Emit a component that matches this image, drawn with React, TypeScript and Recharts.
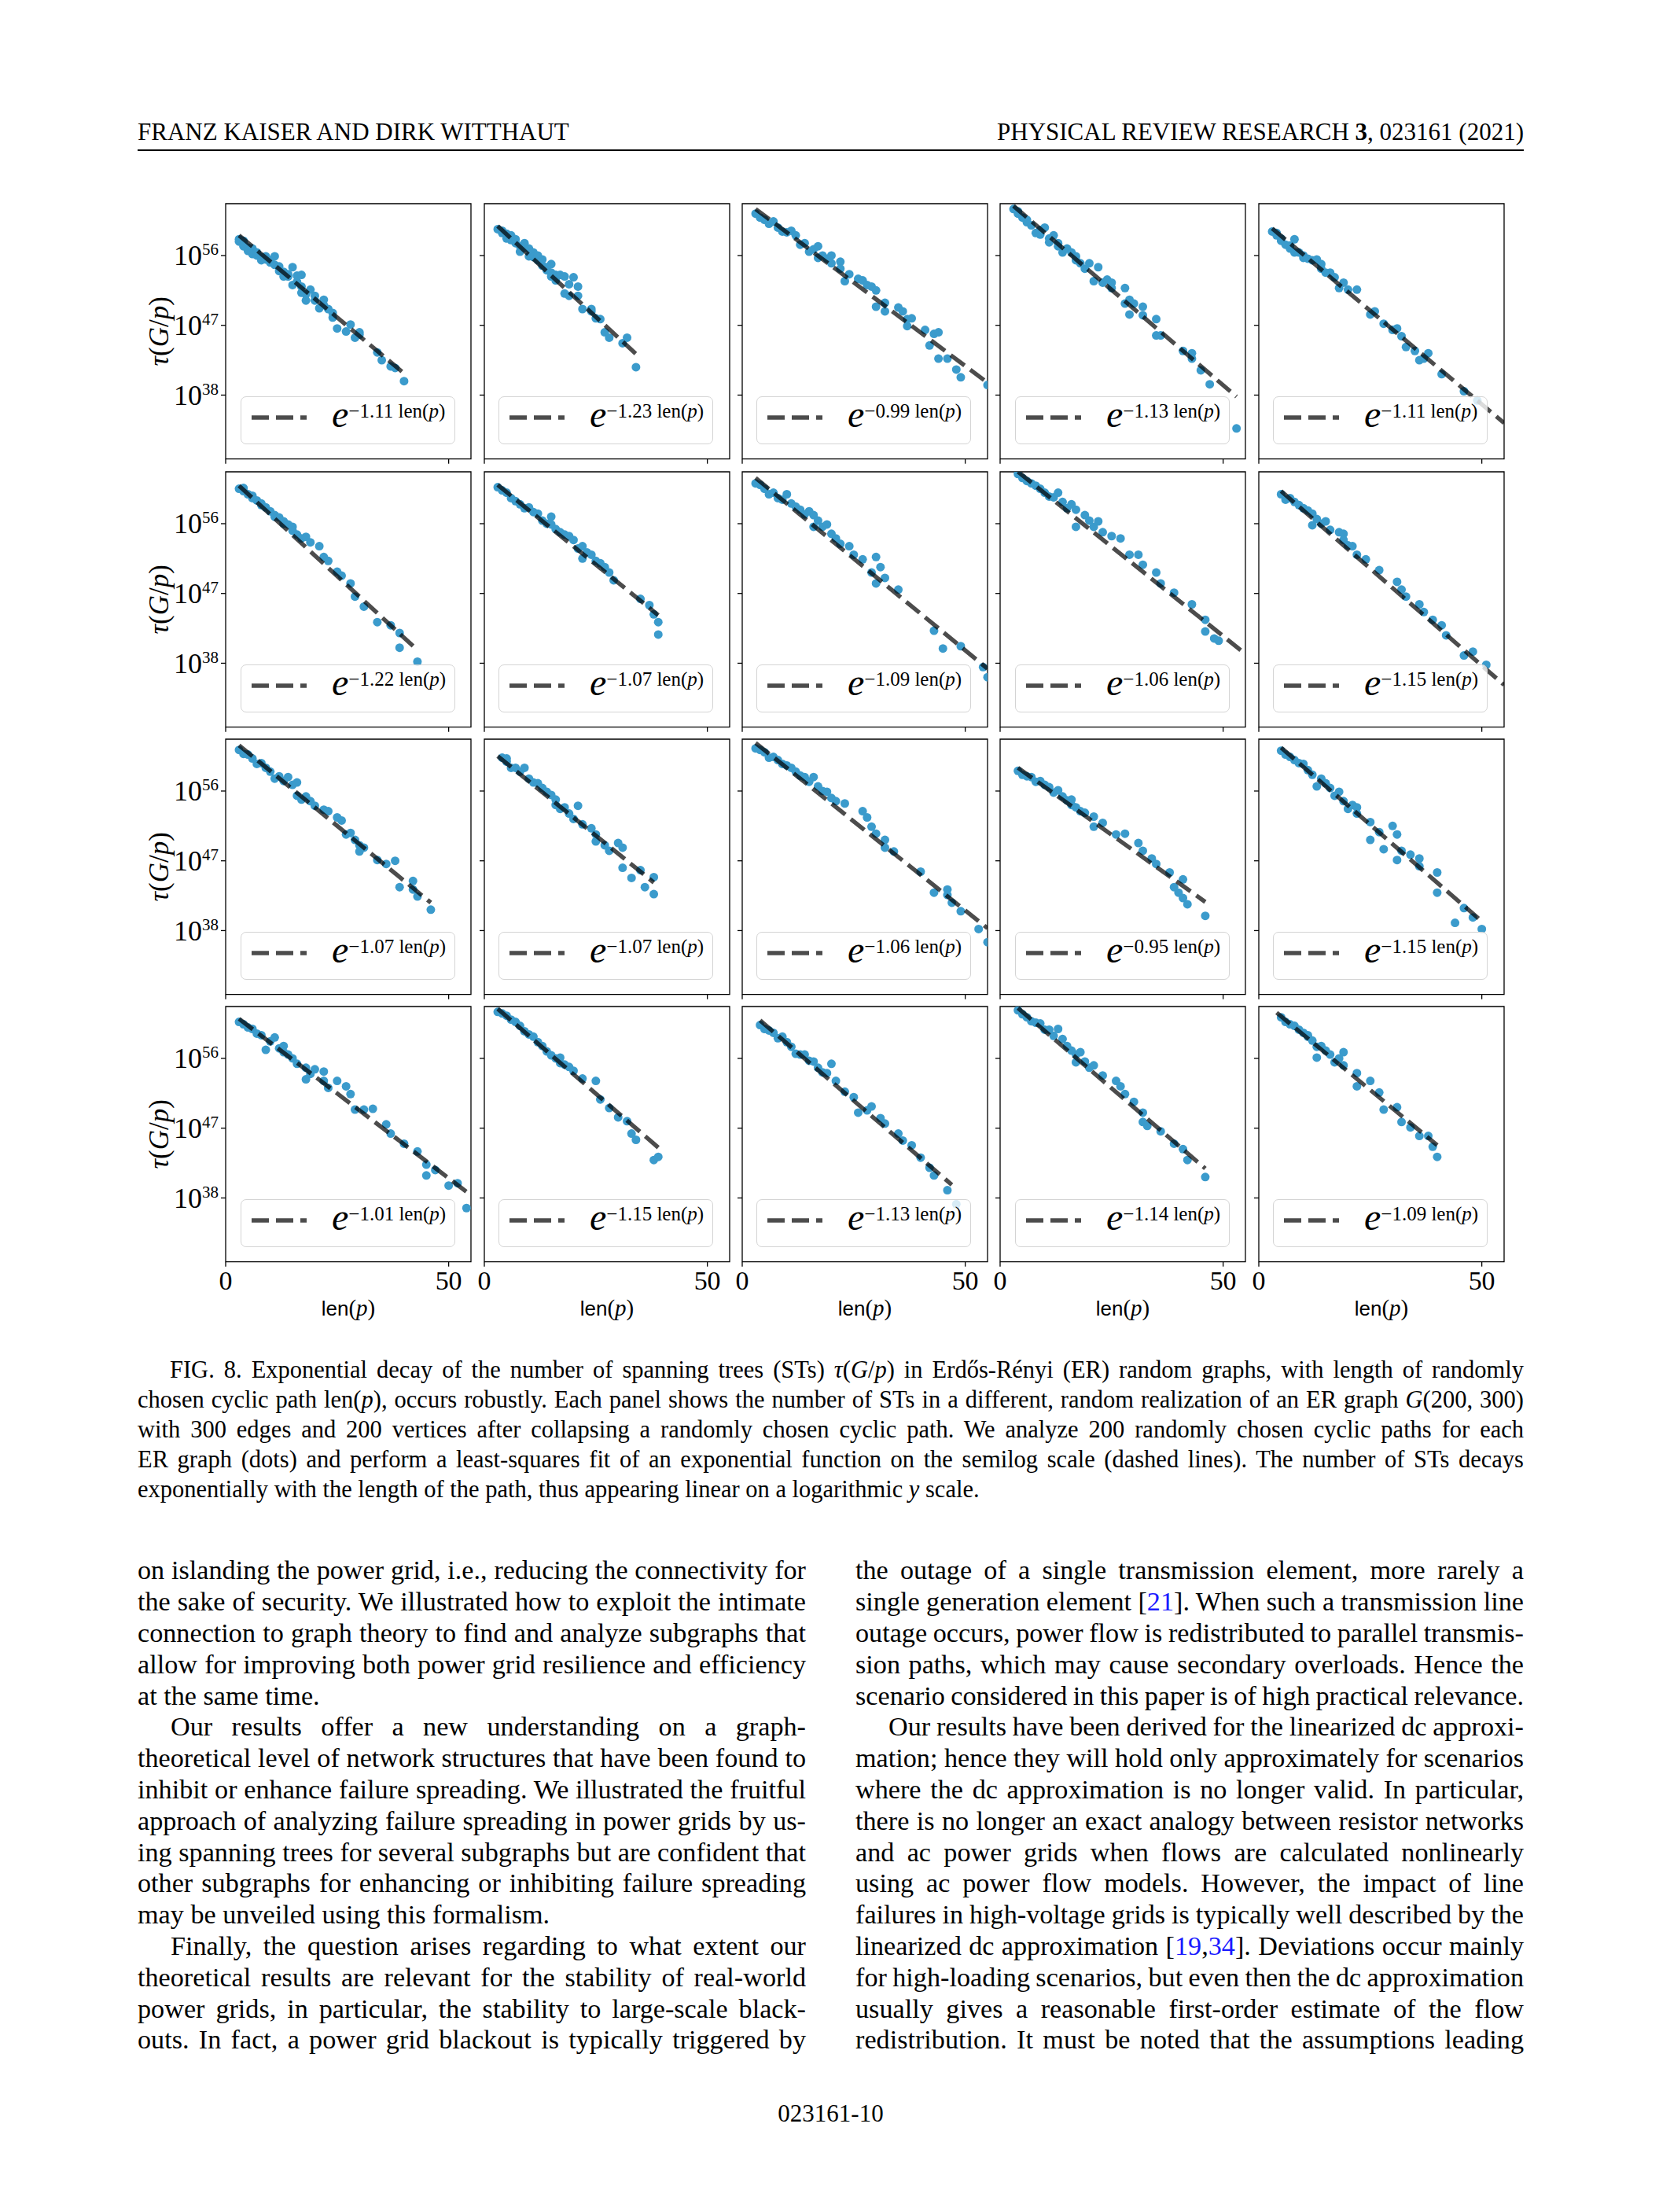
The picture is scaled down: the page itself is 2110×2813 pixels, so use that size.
import React from "react";
import { ScatterChart, Scatter, XAxis, YAxis, ReferenceArea, Legend } from "recharts";

type Pt = [number, number];

const SERIF = '"Liberation Serif", "Times New Roman", serif';
const SANS = '"Liberation Sans", Arial, sans-serif';
const DOT = "#3b9bcc";

// shared axes, y values are log10 of tau(G/p)
const xTicks = [0, 50];
const yTicks = [38, 47, 56];
const xRange: [number, number] = [0, 55];
const yRange: [number, number] = [29.76, 62.69];

const rates = [
  "1.11", "1.23", "0.99", "1.13", "1.11",
  "1.22", "1.07", "1.09", "1.06", "1.15",
  "1.07", "1.07", "1.06", "0.95", "1.15",
  "1.01", "1.15", "1.13", "1.14", "1.09",
];

// dashed fit lines [x0, y0, x1, y1]
const fits = [
  [3, 58.6, 40, 40.8], [3, 59.8, 34, 43.3], [3, 62.0, 55, 39.6], [3, 62.4, 53, 37.8], [3, 59.5, 55, 34.4],
  [3, 60.9, 43, 39.7], [3, 61.0, 39, 44.2], [3, 61.9, 55, 37.3], [4, 62.7, 55, 39.2], [5, 60.2, 55, 35.2],
  [3, 61.9, 46, 41.6], [3, 60.5, 38, 44.2], [3, 62.2, 55, 38.3], [4, 59.0, 46, 41.7], [5, 61.6, 50, 39.2],
  [3, 61.1, 54, 38.8], [3, 62.4, 39, 44.5], [4, 60.9, 47, 39.7], [4, 62.5, 46, 41.8], [4, 61.9, 40, 44.8],
];

const p11: Pt[] = [[3,58.1],[3,57.8],[4,57.6],[4,57.2],[4,57.9],[5,57.0],[5,56.6],[6,56.8],[6,56.2],[6,56.9],[7,56.0],[7,56.4],[8,55.8],[8,55.4],[9,55.5],[9,55.9],[10,55.1],[10,55.4],[11,55.9],[11,54.8],[12,54.0],[12,54.6],[13,53.3],[13,53.9],[14,53.6],[14,53.3],[15,54.5],[15,52.2],[16,53.4],[16,52.6],[17,53.5],[17,52.0],[17,51.2],[18,50.2],[18,51.0],[19,51.6],[20,50.8],[20,50.2],[21,49.2],[22,50.3],[22,49.6],[23,49.1],[24,48.0],[24,48.6],[25,46.6],[27,46.2],[28,47.1],[29,45.4],[30,46.1],[30,45.8],[34,43.5],[35,42.5],[37,41.7],[38,41.5],[40,39.8]];
const p12: Pt[] = [[3,59.4],[4,58.9],[4,59.2],[5,58.2],[5,58.8],[6,58.6],[6,58.0],[7,58.1],[7,57.6],[8,57.2],[8,56.5],[9,57.6],[9,57.0],[10,56.9],[10,55.9],[11,56.4],[11,55.8],[12,55.4],[12,56.0],[13,54.7],[13,55.5],[14,54.5],[14,54.1],[15,54.9],[15,53.8],[15,53.3],[16,52.8],[16,53.5],[17,53.5],[18,53.3],[18,51.1],[19,50.8],[19,52.3],[20,53.2],[21,52.0],[21,50.8],[22,49.1],[24,48.8],[24,49.1],[25,47.9],[26,47.8],[27,46.1],[28,45.4],[31,44.7],[32,45.4],[34,41.6]];
const p13: Pt[] = [[3,61.4],[4,60.9],[5,60.6],[6,60.1],[7,60.4],[8,59.6],[9,59.1],[10,59.0],[11,59.2],[12,58.6],[13,57.4],[14,57.6],[15,56.5],[16,56.8],[17,57.2],[17,55.7],[18,56.0],[19,55.6],[20,56.0],[20,55.0],[22,55.2],[22,54.3],[23,52.7],[24,53.6],[26,53.0],[27,52.8],[28,52.2],[29,52.0],[30,51.5],[30,49.4],[32,49.9],[32,48.8],[35,49.3],[36,48.8],[37,47.8],[38,47.9],[37,46.9],[41,46.4],[42,44.4],[43,45.9],[44,46.1],[44,42.7],[46,42.7],[48,41.3],[49,40.3],[55,39.3]];
const p14: Pt[] = [[3,62.0],[4,61.4],[4,61.7],[5,60.9],[6,60.3],[6,60.6],[7,59.9],[8,58.9],[9,58.7],[9,59.3],[10,59.6],[11,58.2],[11,57.7],[12,58.6],[13,57.6],[13,57.2],[14,56.4],[15,56.9],[16,56.4],[17,55.4],[17,55.9],[18,55.0],[19,54.3],[20,55.0],[22,54.5],[21,52.7],[23,52.5],[24,52.9],[25,52.5],[25,51.8],[28,51.8],[28,49.8],[29,50.3],[29,48.4],[30,49.8],[32,49.4],[32,48.3],[35,47.8],[35,45.7],[36,45.7],[41,43.7],[43,43.4],[43,42.7],[45,41.2],[47,39.4],[53,33.7]];
const p15: Pt[] = [[3,59.1],[4,58.6],[4,58.9],[5,58.2],[5,57.9],[6,57.4],[7,56.9],[7,57.3],[8,58.1],[8,56.4],[9,56.4],[10,55.7],[10,56.0],[11,55.6],[12,55.4],[13,55.5],[14,54.9],[14,54.3],[15,53.8],[16,53.8],[17,53.2],[18,51.8],[19,52.5],[20,51.6],[22,51.6],[25,48.4],[26,48.8],[28,47.2],[30,46.4],[31,46.6],[32,45.6],[33,44.2],[35,43.7],[36,42.5],[38,43.4],[37,42.7],[41,40.7],[46,38.5],[49,37.3]];

const p21: Pt[] = [[3,60.5],[4,60.2],[4,60.6],[5,59.8],[6,59.3],[6,59.6],[7,59.0],[8,58.6],[8,58.4],[9,58.1],[10,57.6],[11,56.9],[11,57.1],[12,56.8],[13,56.3],[13,56.0],[14,55.9],[15,55.6],[15,55.1],[16,54.6],[17,54.1],[18,54.3],[19,53.6],[21,53.1],[22,51.7],[23,51.2],[25,49.8],[26,49.3],[28,48.3],[29,46.6],[31,45.3],[34,43.3],[37,42.9],[39,41.9],[39,40.0],[43,38.2]];
const p22: Pt[] = [[3,60.7],[4,60.3],[5,60.0],[6,59.3],[7,58.9],[8,58.5],[9,58.0],[10,58.1],[11,57.5],[12,57.3],[13,56.4],[14,56.0],[15,56.9],[15,55.9],[16,55.3],[17,54.9],[18,54.6],[19,54.4],[20,53.9],[21,52.8],[22,53.1],[22,51.5],[23,52.3],[24,52.0],[25,51.2],[26,50.9],[27,50.4],[28,49.7],[29,48.7],[35,46.3],[37,45.5],[38,44.3],[39,43.3],[39,41.7]];
const p23: Pt[] = [[3,61.2],[4,61.0],[5,60.5],[6,59.8],[7,60.0],[8,59.3],[9,59.1],[10,59.8],[11,58.6],[12,58.2],[13,57.8],[14,57.2],[15,57.6],[16,57.1],[16,55.6],[17,56.4],[18,55.6],[19,55.9],[20,54.7],[21,54.1],[22,53.4],[24,53.1],[25,52.0],[27,51.4],[30,51.7],[29,49.7],[31,50.4],[30,48.3],[32,49.0],[35,47.5],[43,42.2],[45,39.9],[49,40.2],[54,37.5],[55,36.2]];
const p24: Pt[] = [[4,62.4],[5,61.9],[6,61.5],[7,61.2],[8,60.9],[9,60.5],[10,60.0],[11,59.5],[12,59.4],[13,60.0],[14,58.8],[15,58.0],[16,58.5],[17,57.8],[17,55.6],[19,57.1],[20,56.4],[21,55.6],[22,56.3],[23,54.9],[25,54.4],[27,54.1],[29,52.0],[31,52.0],[32,50.7],[35,49.7],[36,48.3],[39,47.1],[43,45.6],[46,43.6],[46,42.1],[48,41.2],[49,40.9]];
const p25: Pt[] = [[5,59.8],[6,59.1],[7,59.3],[8,58.8],[9,58.4],[10,58.0],[11,57.7],[12,57.3],[13,56.6],[14,56.0],[15,56.3],[16,55.2],[12,55.8],[18,54.9],[19,54.7],[19,53.9],[20,53.2],[21,53.1],[22,52.0],[24,51.4],[27,50.0],[31,48.5],[32,47.5],[33,46.6],[36,45.6],[37,44.6],[39,43.6],[41,42.9],[42,41.6],[46,39.0],[48,39.5],[51,37.8]];

const p31: Pt[] = [[3,61.3],[4,60.8],[5,60.7],[6,60.2],[7,59.5],[8,59.6],[9,59.0],[10,58.5],[11,57.6],[12,57.9],[13,57.3],[14,57.8],[15,56.8],[16,57.1],[16,55.4],[17,54.9],[18,55.3],[19,54.7],[20,54.1],[22,53.6],[23,53.4],[25,52.6],[26,52.2],[27,50.4],[28,50.6],[29,49.7],[30,49.0],[30,48.2],[31,48.7],[34,47.1],[36,46.6],[38,47.0],[39,43.6],[42,43.3],[42,44.4],[43,42.4],[46,40.7]];
const p32: Pt[] = [[4,60.3],[5,59.8],[5,60.2],[6,59.0],[7,59.0],[8,58.5],[9,59.0],[10,57.6],[11,57.1],[12,57.0],[13,56.4],[14,55.9],[15,55.5],[16,54.9],[16,54.2],[17,53.7],[18,53.9],[19,53.1],[21,54.1],[20,52.4],[22,51.7],[24,51.2],[25,50.4],[25,49.5],[27,49.0],[28,48.3],[30,49.3],[31,48.7],[31,46.1],[33,44.8],[35,45.8],[36,43.6],[38,44.9],[38,42.7]];
const p33: Pt[] = [[3,61.5],[4,61.3],[5,61.0],[6,60.3],[7,60.4],[8,60.0],[9,59.5],[10,59.3],[11,59.0],[12,58.5],[13,58.0],[14,57.8],[15,57.2],[16,57.8],[17,56.6],[18,56.0],[19,55.9],[20,55.1],[21,54.7],[23,54.4],[27,53.4],[28,52.6],[29,51.4],[30,50.5],[32,49.7],[32,48.7],[34,48.2],[40,45.6],[43,42.9],[46,43.3],[46,42.6],[47,41.6],[49,40.5],[53,38.2],[55,36.5]];
const p34: Pt[] = [[4,58.6],[5,58.1],[6,57.9],[7,57.8],[8,57.2],[9,57.3],[10,56.8],[11,56.5],[12,55.8],[13,56.1],[14,55.3],[15,54.8],[16,54.9],[16,54.2],[17,53.9],[18,53.4],[19,53.2],[21,52.7],[21,51.4],[23,51.9],[26,50.4],[28,50.5],[31,49.3],[32,48.3],[34,47.3],[35,46.6],[38,45.5],[41,44.6],[39,43.6],[40,42.9],[41,42.2],[42,41.4],[46,39.9]];
const p35: Pt[] = [[5,61.2],[6,60.7],[7,60.4],[8,60.0],[9,59.6],[10,59.5],[11,58.7],[12,58.1],[14,57.6],[13,56.6],[15,57.0],[16,56.4],[17,55.4],[18,55.9],[19,54.7],[20,53.7],[21,54.2],[22,53.9],[22,53.1],[25,52.0],[25,49.7],[27,50.7],[28,48.5],[30,51.5],[31,50.4],[31,47.1],[32,48.3],[34,47.8],[36,47.3],[36,46.3],[40,45.5],[40,42.9],[46,40.9],[44,39.0],[48,39.7],[50,38.2]];

const p41: Pt[] = [[3,60.7],[4,60.4],[5,60.0],[6,59.8],[7,59.2],[8,59.0],[9,57.1],[10,58.2],[11,58.7],[12,57.3],[13,57.6],[13,56.8],[14,56.5],[15,56.0],[16,55.3],[18,54.8],[18,53.3],[19,54.0],[20,54.6],[22,54.3],[22,53.1],[23,52.2],[25,53.1],[27,52.4],[28,51.4],[29,49.4],[31,49.4],[33,49.5],[36,47.5],[37,46.3],[40,45.0],[43,44.0],[45,42.3],[45,40.9],[47,41.6],[50,39.6],[52,39.9],[54,36.7]];
const p42: Pt[] = [[3,62.0],[4,61.8],[5,61.5],[6,61.0],[7,60.7],[8,60.2],[9,59.5],[10,59.1],[11,58.8],[12,58.1],[13,57.6],[14,56.9],[15,56.4],[16,56.0],[17,56.1],[17,55.4],[18,55.2],[19,54.9],[20,54.4],[22,53.4],[25,53.1],[26,50.7],[28,49.6],[30,48.4],[32,47.9],[33,46.3],[34,45.5],[38,42.9],[39,43.3]];
const p43: Pt[] = [[4,60.3],[5,59.8],[6,59.6],[7,59.3],[8,58.6],[9,58.8],[10,58.1],[11,57.5],[12,56.6],[13,56.5],[14,56.5],[15,55.7],[16,55.6],[17,54.8],[18,54.2],[19,54.1],[20,55.3],[21,53.1],[23,51.7],[25,51.0],[26,49.0],[28,49.3],[29,49.8],[31,48.3],[32,47.6],[35,46.3],[36,45.4],[38,44.8],[40,43.2],[42,41.9],[43,40.9],[46,39.0],[48,37.2]];
const p44: Pt[] = [[4,62.2],[5,61.7],[6,61.3],[7,60.8],[8,60.6],[9,60.5],[10,59.7],[11,59.7],[12,58.9],[13,59.8],[14,58.5],[15,57.6],[16,57.0],[17,56.5],[18,56.8],[17,55.5],[19,55.6],[20,54.8],[21,55.1],[23,53.8],[26,53.1],[27,52.4],[28,51.4],[30,50.4],[32,49.0],[32,47.8],[33,47.3],[36,46.6],[39,45.0],[41,44.3],[42,42.9],[46,40.7]];
const p45: Pt[] = [[5,61.3],[6,60.7],[7,60.4],[8,60.2],[9,59.7],[10,59.3],[11,58.8],[11,59.0],[12,58.3],[13,57.5],[13,56.1],[14,57.6],[15,57.0],[16,56.5],[18,56.0],[19,56.8],[17,55.5],[19,55.1],[22,54.1],[22,52.4],[25,53.1],[27,51.6],[28,49.4],[31,49.7],[32,47.8],[34,47.1],[36,46.0],[38,46.0],[39,44.6],[40,43.3]];

const dots = [p11, p12, p13, p14, p15, p21, p22, p23, p24, p25, p31, p32, p33, p34, p35, p41, p42, p43, p44, p45];

const colX = [287.3, 615.6, 943.9, 1272.2, 1600.5];
const rowY = [259.3, 599.6, 940, 1280.3];
const PW = 312;
const PH = 324.7;

const LINE_STYLE = { stroke: "#000", strokeOpacity: 0.7, strokeWidth: 5.4, strokeDasharray: "22 9" };

const Dot = (p: any) => <circle cx={p.cx} cy={p.cy} r={5.5} fill={DOT} />;
const NoDot = () => <g />;
const NoTick = () => <g />;

const XTick = (p: any) => (
  <text x={p.x} y={p.y} dy={27} textAnchor="middle" fontFamily={SERIF} fontSize={34} fill="#000">
    {p.payload.value}
  </text>
);

const YTick = (p: any) => (
  <text x={p.x} y={p.y} textAnchor="end" fontFamily={SERIF} fill="#000">
    <tspan fontSize={36} dy={12.5}>10</tspan>
    <tspan fontSize={21} dy={-13}>{p.payload.value}</tspan>
  </text>
);

const XLabel = (p: any) => {
  const vb = p.viewBox;
  return (
    <text x={vb.x + vb.width / 2} y={vb.y + 68} textAnchor="middle" fill="#000">
      <tspan fontFamily={SANS} fontSize={26}>len</tspan>
      <tspan fontFamily={SERIF} fontSize={29}>(</tspan>
      <tspan fontFamily={SERIF} fontSize={29} fontStyle="italic">p</tspan>
      <tspan fontFamily={SERIF} fontSize={29}>)</tspan>
    </text>
  );
};

const YLabel = (p: any) => {
  const vb = p.viewBox;
  const bx = vb.x + vb.width - 73;
  const cy = vb.y + vb.height / 2;
  return (
    <text x={bx} y={cy} transform={`rotate(-90 ${bx} ${cy})`} textAnchor="middle" fontFamily={SERIF} fontSize={35} fill="#000">
      <tspan fontStyle="italic">τ</tspan>(<tspan fontStyle="italic">G</tspan>/<tspan fontStyle="italic">p</tspan>)
    </text>
  );
};

const FitKey = ({ rate }: { rate: string }) => (
  <div
    style={{
      position: "relative",
      width: 273,
      height: 61,
      boxSizing: "border-box",
      border: "1.5px solid #d4d4d4",
      borderRadius: 7,
      background: "rgba(255,255,255,0.8)",
    }}
  >
    <svg width={270} height={80} style={{ position: "absolute", left: 0, top: -12, overflow: "visible" }}>
      <line x1={13} x2={83} y1={38} y2={38} {...LINE_STYLE} />
      <text x={115} y={49.5} fontFamily={SERIF} fill="#000">
        <tspan fontSize={48} fontStyle="italic">e</tspan>
        <tspan fontSize={25} dy={-11.6}>−{rate} len(</tspan>
        <tspan fontSize={25} fontStyle="italic">p</tspan>
        <tspan fontSize={25}>)</tspan>
      </text>
    </svg>
  </div>
);

function Panel({ idx }: { idx: number }) {
  const row = Math.floor(idx / 5);
  const col = idx % 5;
  const left = col === 0 ? 110 : 12;
  const bottom = row === 3 ? 92 : 12;
  const top = 8;
  const right = 8;
  const data = dots[idx].map(([x, y]) => ({ x, y }));
  const f = fits[idx];
  const fit = [
    { x: f[0], y: f[1] },
    { x: f[2], y: f[3] },
  ];
  return (
    <div style={{ position: "absolute", left: colX[col] - left, top: rowY[row] - top }}>
      <ScatterChart width={left + PW + right} height={top + PH + bottom} margin={{ top, right, bottom: 0, left: 0 }}>
        <XAxis
          type="number"
          dataKey="x"
          domain={xRange}
          ticks={xTicks}
          interval={0}
          allowDataOverflow
          height={bottom}
          axisLine={false}
          stroke="#000"
          tickSize={6}
          tickMargin={2}
          tickLine={{ stroke: "#000", strokeWidth: 1.3 }}
          tick={row === 3 ? XTick : NoTick}
          label={row === 3 ? XLabel : undefined}
        />
        <YAxis
          type="number"
          dataKey="y"
          domain={yRange}
          ticks={yTicks}
          interval={0}
          allowDataOverflow
          width={left}
          axisLine={false}
          stroke="#000"
          tickSize={6}
          tickMargin={3}
          tickLine={{ stroke: "#000", strokeWidth: 1.3 }}
          tick={col === 0 ? YTick : NoTick}
          label={col === 0 ? YLabel : undefined}
        />
        <Scatter data={data} fill={DOT} shape={Dot} isAnimationActive={false} />
        <Scatter data={fit} fill="none" shape={NoDot} lineType="joint" line={LINE_STYLE} isAnimationActive={false} />
        <ReferenceArea
          x1={xRange[0]}
          x2={xRange[1]}
          y1={yRange[0]}
          y2={yRange[1]}
          fill="none"
          stroke="#000"
          strokeWidth={1.3}
          ifOverflow="visible"
        />
        <Legend
          layout="vertical"
          align="center"
          verticalAlign="middle"
          wrapperStyle={{ left: left + 18.4, top: top + 245, width: 273, height: 61 }}
          content={() => <FitKey rate={rates[idx]} />}
        />
      </ScatterChart>
    </div>
  );
}

function TextLine({
  x,
  base,
  w,
  size,
  last = false,
  indent = 0,
  spacing = 0,
  children,
}: {
  x: number;
  base: number;
  w: number;
  size: number;
  last?: boolean;
  indent?: number;
  spacing?: number;
  children: React.ReactNode;
}) {
  return (
    <div
      style={{
        position: "absolute",
        left: x,
        top: base - 0.8375 * size,
        width: w,
        boxSizing: "border-box",
        paddingLeft: indent,
        fontSize: size,
        lineHeight: `${size}px`,
        textAlign: last ? "left" : "justify",
        textAlignLast: last ? "left" : "justify",
        wordSpacing: last ? 0 : spacing,
      }}
    >
      {children}
    </div>
  );
}

const Cite = ({ children }: { children: React.ReactNode }) => <span style={{ color: "#1a1aff" }}>{children}</span>;

const captionLines: React.ReactNode[] = [
  <>FIG. 8. Exponential decay of the number of spanning trees (STs) <i>τ</i>(<i>G</i>/<i>p</i>) in Erdős-Rényi (ER) random graphs, with length of randomly</>,
  <>chosen cyclic path len(<i>p</i>), occurs robustly. Each panel shows the number of STs in a different, random realization of an ER graph <i>G</i>(200, 300)</>,
  <>with 300 edges and 200 vertices after collapsing a randomly chosen cyclic path. We analyze 200 randomly chosen cyclic paths for each</>,
  <>ER graph (dots) and perform a least-squares fit of an exponential function on the semilog scale (dashed lines). The number of STs decays</>,
  <>exponentially with the length of the path, thus appearing linear on a logarithmic <i>y</i> scale.</>,
];

const leftColumn: React.ReactNode[] = [
  "on islanding the power grid, i.e., reducing the connectivity for",
  "the sake of security. We illustrated how to exploit the intimate",
  "connection to graph theory to find and analyze subgraphs that",
  "allow for improving both power grid resilience and efficiency",
  "at the same time.",
  "Our results offer a new understanding on a graph-",
  "theoretical level of network structures that have been found to",
  "inhibit or enhance failure spreading. We illustrated the fruitful",
  "approach of analyzing failure spreading in power grids by us-",
  "ing spanning trees for several subgraphs but are confident that",
  "other subgraphs for enhancing or inhibiting failure spreading",
  "may be unveiled using this formalism.",
  "Finally, the question arises regarding to what extent our",
  "theoretical results are relevant for the stability of real-world",
  "power grids, in particular, the stability to large-scale black-",
  "outs. In fact, a power grid blackout is typically triggered by",
];
const leftLast = [4, 11];
const leftIndent = [5, 12];

const rightColumn: React.ReactNode[] = [
  "the outage of a single transmission element, more rarely a",
  <>single generation element [<Cite>21</Cite>]. When such a transmission line</>,
  "outage occurs, power flow is redistributed to parallel transmis-",
  "sion paths, which may cause secondary overloads. Hence the",
  "scenario considered in this paper is of high practical relevance.",
  "Our results have been derived for the linearized dc approxi-",
  "mation; hence they will hold only approximately for scenarios",
  "where the dc approximation is no longer valid. In particular,",
  "there is no longer an exact analogy between resistor networks",
  "and ac power grids when flows are calculated nonlinearly",
  "using ac power flow models. However, the impact of line",
  "failures in high-voltage grids is typically well described by the",
  <>linearized dc approximation [<Cite>19</Cite>,<Cite>34</Cite>]. Deviations occur mainly</>,
  "for high-loading scenarios, but even then the dc approximation",
  "usually gives a reasonable first-order estimate of the flow",
  "redistribution. It must be noted that the assumptions leading",
];
const rightIndent = [5];

const TEXT_L = 175;
const TEXT_R = 1938;
const COL_W = 850;
const BODY_BASE = 2009;
const BODY_STEP = 39.8;

export default function App() {
  return (
    <div
      style={{
        position: "absolute",
        left: 0,
        top: 0,
        width: 2110,
        height: 2813,
        background: "#fff",
        color: "#000",
        fontFamily: SERIF,
      }}
    >
      <TextLine x={TEXT_L} base={178} w={900} size={31} last>
        FRANZ KAISER AND DIRK WITTHAUT
      </TextLine>
      <div
        style={{
          position: "absolute",
          right: 2110 - TEXT_R,
          top: 178 - 0.8375 * 31,
          fontSize: 31,
          lineHeight: "31px",
          whiteSpace: "nowrap",
        }}
      >
        PHYSICAL REVIEW RESEARCH <b>3</b>, 023161 (2021)
      </div>
      <div style={{ position: "absolute", left: TEXT_L, top: 190, width: TEXT_R - TEXT_L, height: 2.4, background: "#000" }} />

      {dots.map((_, i) => (
        <Panel key={i} idx={i} />
      ))}

      {captionLines.map((line, i) => (
        <TextLine
          key={i}
          x={TEXT_L}
          base={1753 + i * 37.8}
          w={TEXT_R - TEXT_L}
          size={30.5}
          spacing={-3}
          indent={i === 0 ? 41 : 0}
          last={i === captionLines.length - 1}
        >
          {line}
        </TextLine>
      ))}

      {leftColumn.map((line, i) => (
        <TextLine
          key={i}
          x={TEXT_L}
          base={BODY_BASE + i * BODY_STEP}
          w={COL_W}
          size={34.2}
          spacing={-3.5}
          indent={leftIndent.includes(i) ? 42 : 0}
          last={leftLast.includes(i)}
        >
          {line}
        </TextLine>
      ))}

      {rightColumn.map((line, i) => (
        <TextLine
          key={i}
          x={TEXT_R - COL_W}
          base={BODY_BASE + i * BODY_STEP}
          w={COL_W}
          size={34.2}
          spacing={-3.5}
          indent={rightIndent.includes(i) ? 42 : 0}
        >
          {line}
        </TextLine>
      ))}

      <div
        style={{
          position: "absolute",
          left: 0,
          width: TEXT_L + TEXT_R,
          top: 2698 - 0.8375 * 31,
          fontSize: 31,
          lineHeight: "31px",
          textAlign: "center",
        }}
      >
        023161-10
      </div>
    </div>
  );
}
